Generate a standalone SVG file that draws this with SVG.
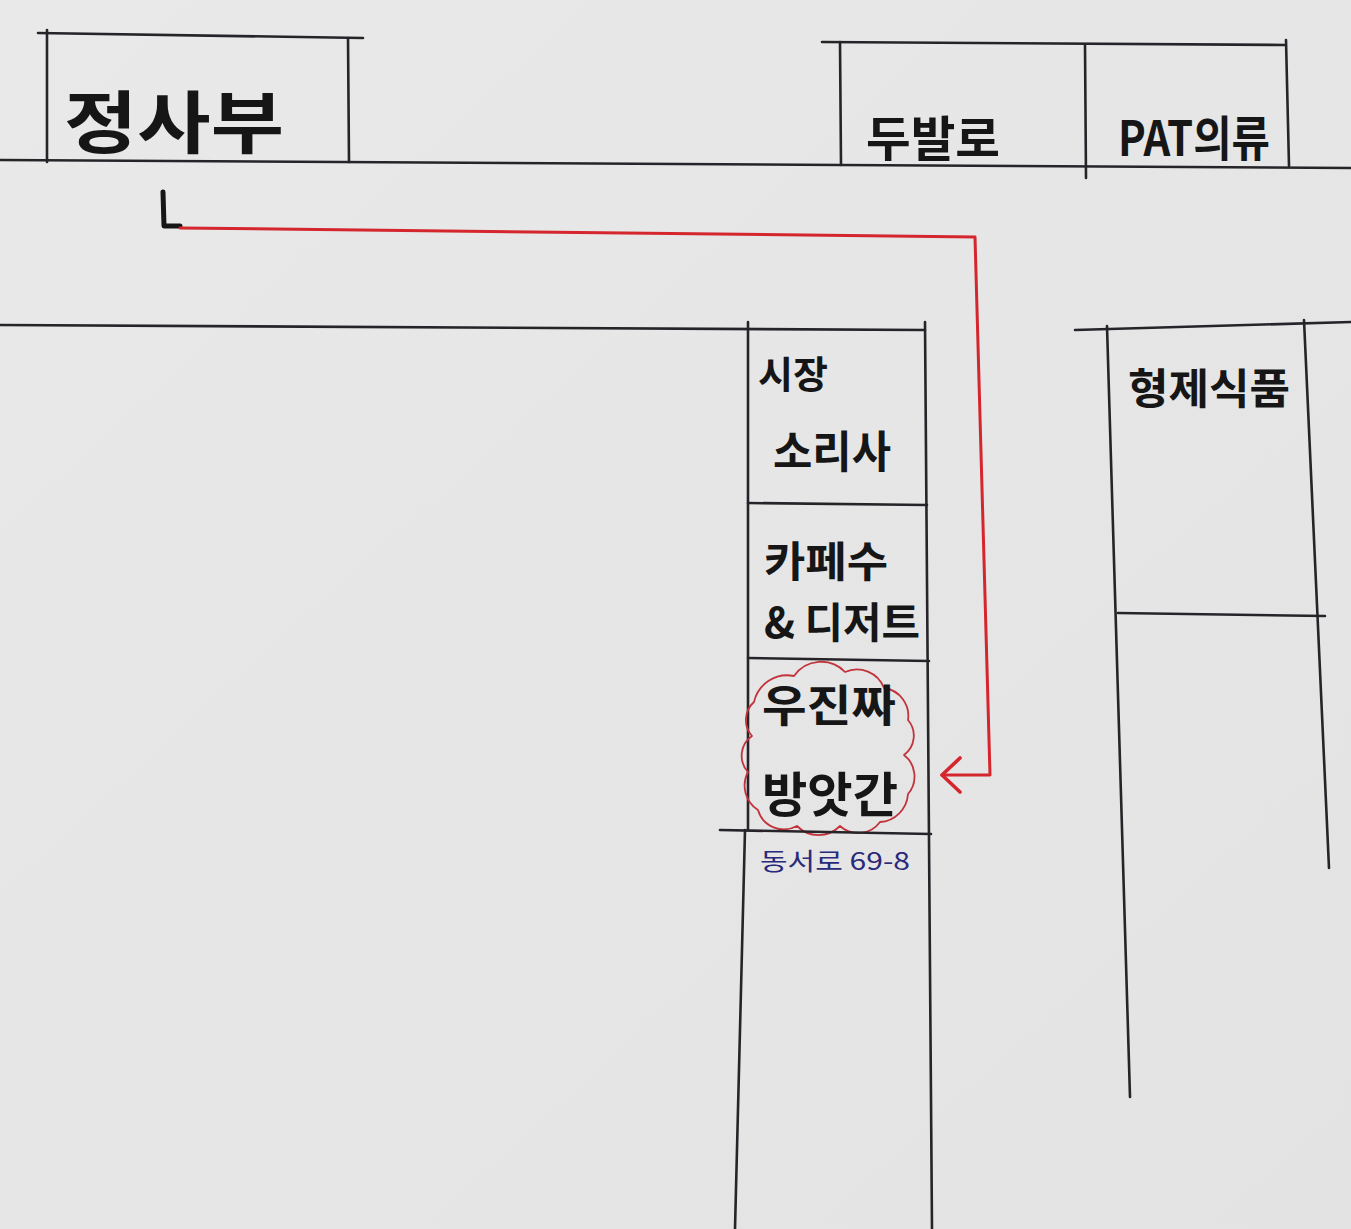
<svg xmlns="http://www.w3.org/2000/svg" width="1351" height="1229" viewBox="0 0 1351 1229">
<defs>
<style>
.ln{fill:none;stroke:#262428;stroke-width:2.6;stroke-linecap:round}
.t{font-family:"Noto Sans CJK KR","Noto Sans",sans-serif;font-weight:700;fill:#161616}
.red{fill:none;stroke:#d4262c;stroke-width:3;stroke-linecap:round;stroke-linejoin:round}
.cloud{fill:none;stroke:#c2343c;stroke-width:1.8;stroke-linejoin:round}
</style>
<linearGradient id="paper" x1="0" y1="0" x2="1" y2="1">
<stop offset="0" stop-color="#e9e9e9"/>
<stop offset="1" stop-color="#e3e3e4"/>
</linearGradient>
<marker id="arr" viewBox="0 0 24 40" refX="21" refY="20" markerWidth="24" markerHeight="40" markerUnits="userSpaceOnUse" orient="auto">
<path d="M3 3 L21 20 L3 37" fill="none" stroke="#d4262c" stroke-width="3.6" stroke-linecap="round" stroke-linejoin="round"/>
</marker>
</defs>
<rect width="1351" height="1229" fill="url(#paper)"/>

<g id="grid">
<path class="ln" d="M0 160 L840 165 L1351 168"/>
<path class="ln" d="M0 325 L925 330"/>
<path class="ln" d="M1075 330 L1351 322"/>
</g>

<g id="node-jeongsabu">
<path class="ln" d="M38 33 L363 38"/>
<path class="ln" d="M47 30 L47 162"/>
<path class="ln" d="M348 38 L349 162"/>
<text class="t" x="64" y="148" font-size="68" textLength="220" lengthAdjust="spacingAndGlyphs">정사부</text>
</g>

<g id="node-dubalro">
<path class="ln" d="M822 42 L1285 45"/>
<path class="ln" d="M840 42 L841 165"/>
<path class="ln" d="M1085 45 L1086 178"/>
<text class="t" x="866" y="156" font-size="48" textLength="134" lengthAdjust="spacingAndGlyphs">두발로</text>
</g>

<g id="node-pat">
<path class="ln" d="M1286 40 L1289 166"/>
<text class="t" x="1118" y="156" font-size="48" textLength="152" lengthAdjust="spacingAndGlyphs">PAT의류</text>
</g>

<g id="column-mid">
<path class="ln" d="M748 322 L748 830 M745 830 L735 1229"/>
<path class="ln" d="M925 322 L932 1229"/>
</g>

<g id="node-sijang">
<path class="ln" d="M748 503 L927 505"/>
<text class="t" x="758" y="388" font-size="38">시장</text>
<text class="t" x="773" y="468" font-size="44" textLength="118" lengthAdjust="spacingAndGlyphs">소리사</text>
</g>

<g id="node-cafe">
<path class="ln" d="M748 658 L929 661"/>
<text class="t" x="764" y="577" font-size="42" textLength="124" lengthAdjust="spacingAndGlyphs">카페수</text>
<text class="t" x="764" y="638" font-size="42" textLength="156" lengthAdjust="spacingAndGlyphs">&amp; 디저트</text>
</g>

<g id="node-bangatgan">
<path class="cloud" d="M752 736 A24 24 0 0 1 754 702 A34 34 0 0 1 794 676 A33 33 0 0 1 845 672 A29 29 0 0 1 884 688 A28 28 0 0 1 908 720 A24 24 0 0 1 904 755 A27 27 0 0 1 908 794 A30 30 0 0 1 880 822 A27 27 0 0 1 840 826 A30 30 0 0 1 797 826 A27 27 0 0 1 758 810 A29 29 0 0 1 748 772 A24 24 0 0 1 752 736 Z"/>
<path class="ln" d="M720 830 L931 834"/>
<text class="t" x="762" y="722" font-size="44" textLength="134" lengthAdjust="spacingAndGlyphs">우진짜</text>
<text class="t" x="762" y="812" font-size="48" textLength="136" lengthAdjust="spacingAndGlyphs">방앗간</text>
<text x="760" y="870" font-size="24" fill="#2a2a7a" font-family="Noto Sans CJK KR, sans-serif" textLength="150" lengthAdjust="spacingAndGlyphs">동서로 69-8</text>
</g>

<g id="node-hyeongje">
<path class="ln" d="M1107 326 L1130 1097"/>
<path class="ln" d="M1304 320 L1329 868"/>
<path class="ln" d="M1118 613 L1325 616"/>
<text class="t" x="1128" y="404" font-size="42" textLength="162" lengthAdjust="spacingAndGlyphs">형제식품</text>
</g>

<g id="connectors">
<path d="M163 192 L164 226 L180 226" fill="none" stroke="#161616" stroke-width="5" stroke-linecap="round" stroke-linejoin="round"/>
<path class="red" d="M180 228 L975 237 L990 775 L942 775" marker-end="url(#arr)"/>
</g>
</svg>
